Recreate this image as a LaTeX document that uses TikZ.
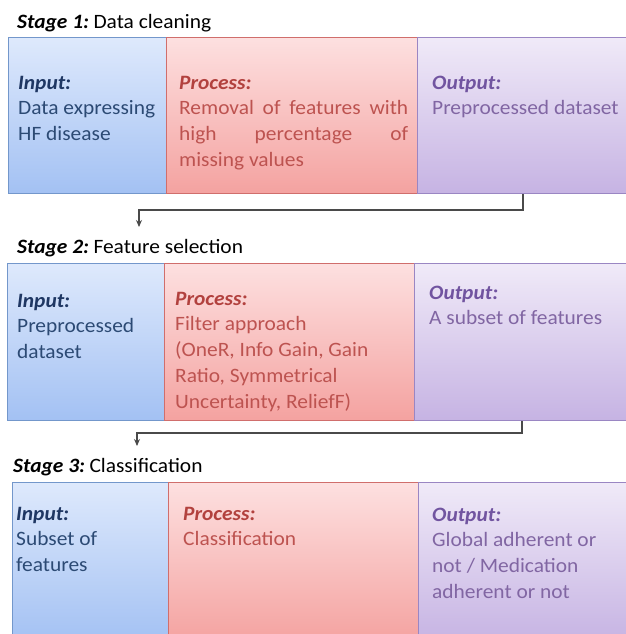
\documentclass[tikz,border=0pt]{standalone}
\usepackage{fontspec}
\setmainfont{Carlito}[FakeStretch=1.05]
\usetikzlibrary{arrows.meta}
\definecolor{bluetop}{HTML}{DEE9FC}
\definecolor{bluebot}{HTML}{A3C1F3}
\definecolor{blueline}{HTML}{7397CB}
\definecolor{redtop}{HTML}{FDE0E0}
\definecolor{redbot}{HTML}{F4A2A0}
\definecolor{redline}{HTML}{D06E6C}
\definecolor{purtop}{HTML}{F0EAF8}
\definecolor{purbot}{HTML}{C6B3E3}
\definecolor{purline}{HTML}{9A86C3}
\definecolor{inlab}{HTML}{1F3763}
\definecolor{intext}{HTML}{2C4A74}
\definecolor{prlab}{HTML}{B2413E}
\definecolor{prtext}{HTML}{BD5350}
\definecolor{oulab}{HTML}{7154A0}
\definecolor{outext}{HTML}{8166A3}
\definecolor{connc}{HTML}{4A4A4A}
\newcommand\mylines[1]{\vtop{\baselineskip=25.8pt #1}}
\newcommand\lab[1]{\textbf{\textit{#1}}}
\tikzset{
  cellbox/.style={anchor=north west, inner sep=0pt, line width=1.1pt, minimum height=#1},
  bluecell/.style={cellbox=156pt, top color=bluetop, bottom color=bluebot, draw=blueline},
  redcell/.style={cellbox=156pt, top color=redtop, bottom color=redbot, draw=redline},
  purcell/.style={cellbox=156pt, top color=purtop, bottom color=purbot, draw=purline},
  celltext/.style={anchor=base west, inner sep=0pt, font=\fontsize{20.4}{25.8}\selectfont},
  stagetitle/.style={anchor=base west, inner sep=0pt, font=\fontsize{20.4}{25.8}\selectfont, text=black},
  conn/.style={draw=connc, line width=1.4pt, -{Stealth[length=7pt,width=6pt]}}
}
\begin{document}
\begin{tikzpicture}[x=1pt,y=-1pt]
\useasboundingbox[fill=white] (0,0) rectangle (625,634);
% Stage 1
\node[stagetitle] (t1) at (17,29) {\lab{Stage 1:}\hspace{-2pt} Data cleaning};
\node[bluecell, minimum width=158pt] (b1) at (8,37) {};
\node[redcell, minimum width=251pt] (r1) at (166,37) {};
\node[purcell, minimum width=215pt] (p1) at (417,37) {};
\node[celltext, text=intext] (b1t) at (18,89) {\mylines{\hbox{\color{inlab}\lab{Input:}}\hbox{Data expressing}\hbox{HF disease}}};
\node[celltext, text=prtext] (r1t) at (179,89) {\mylines{\hbox{\color{prlab}\lab{Process:}}\hbox to 229pt{Removal of features with}\hbox to 229pt{high\hfill percentage\hfill of}\hbox{missing values}}};
\node[celltext, text=outext] (p1t) at (432,89) {\mylines{\hbox{\color{oulab}\lab{Output:}}\hbox{Preprocessed dataset}}};
% Stage 2
\node[stagetitle] (t2) at (17,253) {\lab{Stage 2:}\hspace{-2pt} Feature selection};
\node[bluecell, minimum width=157pt, minimum height=157pt] (b2) at (7,263) {};
\node[redcell, minimum width=250pt, minimum height=157pt] (r2) at (164,263) {};
\node[purcell, minimum width=215pt, minimum height=157pt] (p2) at (414,263) {};
\node[celltext, text=intext] (b2t) at (17,307) {\mylines{\hbox{\color{inlab}\lab{Input:}}\hbox{Preprocessed}\hbox{dataset}}};
\node[celltext, text=prtext] (r2t) at (175,305) {\mylines{\hbox{\color{prlab}\lab{Process:}}\hbox{Filter approach}\hbox{(OneR, Info Gain, Gain}\hbox{Ratio, Symmetrical}\hbox{Uncertainty, ReliefF)}}};
\node[celltext, text=outext] (p2t) at (429,299) {\mylines{\hbox{\color{oulab}\lab{Output:}}\hbox{A subset of features}}};
% Stage 3
\node[stagetitle] (t3) at (13,472) {\lab{Stage 3:}\hspace{-2pt} Classification};
\node[bluecell, minimum width=156pt, minimum height=160pt] (b3) at (12,482) {};
\node[redcell, minimum width=250pt, minimum height=160pt] (r3) at (168,482) {};
\node[purcell, minimum width=215pt, minimum height=160pt] (p3) at (418,482) {};
\node[celltext, text=intext] (b3t) at (16,520) {\mylines{\hbox{\color{inlab}\lab{Input:}}\hbox{Subset of}\hbox{features}}};
\node[celltext, text=prtext] (r3t) at (183,520) {\mylines{\hbox{\color{prlab}\lab{Process:}}\hbox{Classification}}};
\node[celltext, text=outext] (p3t) at (432,521) {\mylines{\hbox{\color{oulab}\lab{Output:}}\hbox{Global adherent or}\hbox{not / Medication}\hbox{adherent or not}}};
% connectors
\coordinate (k1) at (523,210);
\coordinate (a1) at (139,227);
\draw[conn] (p1.south -| k1) -- (k1) -| (a1);
\coordinate (k2) at (522,433);
\coordinate (a2) at (137,446);
\draw[conn] (p2.south -| k2) -- (k2) -| (a2);
\end{tikzpicture}
\end{document}
